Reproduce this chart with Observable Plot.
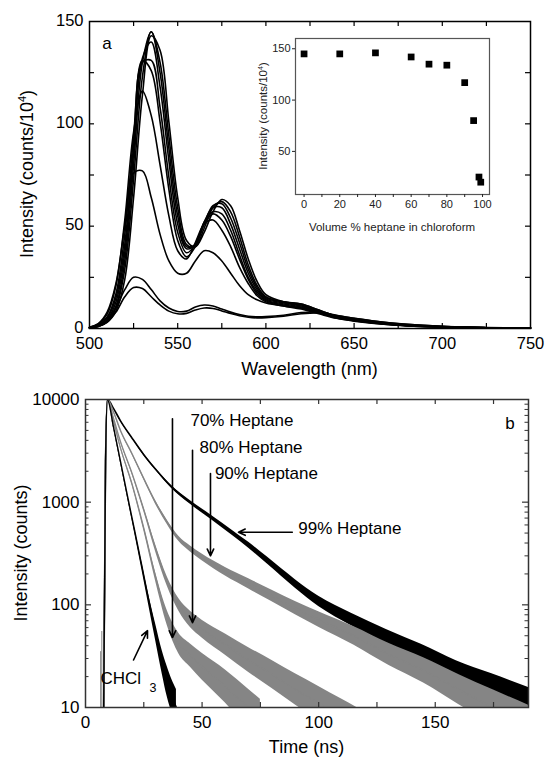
<!DOCTYPE html>
<html><head><meta charset="utf-8">
<script src="https://cdn.jsdelivr.net/npm/d3@7"></script>
<script src="https://cdn.jsdelivr.net/npm/@observablehq/plot@0.6"></script>
<style>
body{margin:0;background:#fff;}
#wrap{position:relative;width:548px;height:759px;overflow:hidden;background:#fff;}
#wrap svg{position:absolute;overflow:visible;}
</style></head><body><div id="wrap"></div>
<script>
const FONT = '"Liberation Sans", Arial, Helvetica, sans-serif';

// ---------- Panel a: emission spectra (intensity, counts/10^4) ----------
const wl = [500,505,510,515,520,525,530,535,540,545,550,555,560,565,570,575,580,585,590,595,600,610,620,630,640,650,660,680,700,725,750];
const sp0  = [0.3,1,3,8.5,24,64,114,143,136,101,64,43,40,47,57,63,60,48,34,23,16.5,13,12,9,6,4.5,3.2,1.7,0.9,0.4,0.2];
const sp20 = [0.3,1.1,3.4,10,29,73,123,145,130,94,59,41,40,49,59,62,57,45,31,21,15.5,13,12,9,6,4.4,3.1,1.6,0.9,0.4,0.2];
const sp40 = [0.3,1.2,3.8,11,33,80,130,145,125,88,55,40,41,51,60,61,54,42,29,20,15,13,11.5,8.5,5.8,4.2,3,1.5,0.8,0.4,0.2];
const sp60 = [0.4,1.4,4.3,13,37,86,132,140,118,82,51,39,41,52,59,59,51,39,27,19,14.5,12.5,11,8.2,5.6,4,2.9,1.5,0.8,0.4,0.2];
const sp70 = [0.4,1.6,5,15,41,89,130,131,108,74,47,37,41,52,57,56,48,36,25,18,14,12,10.5,8,5.4,3.9,2.8,1.4,0.7,0.3,0.2];
const sp80 = [0.5,1.8,5.6,17,46,94,131,126,101,68,43,35,40,51,56,53,45,34,24,17,13.5,11.5,10,7.6,5.2,3.8,2.7,1.4,0.7,0.3,0.2];
const sp90 = [0.6,2.2,7,21,53,96,116,104,80,55,38,34,42,51,53,48,40,30,22,16,13,11,9.5,7.2,5,3.6,2.6,1.3,0.7,0.3,0.2];
const sp95 = [0.6,2.4,8,22,50,76,77,64,46,33,27,27,33,38,37,33,27,21,16.5,14,12.5,11,10,8,5.8,4.2,3,1.5,0.8,0.3,0.2];
const sp98 = [0.3,1.2,4,10,19,25,24,19,13.5,10,8.3,8.5,10.5,11.5,11,9.5,8,6.8,6,5.7,5.8,6.5,7.8,8,6.5,5,3.8,2,1,0.4,0.2];
const sp99 = [0.3,1,3.3,8,15.5,20,19.5,15.5,11.5,8.5,7.2,7.4,9,10,9.8,8.6,7.3,6.2,5.5,5.2,5.3,6,7.2,7.6,6.3,5,3.8,2.1,1.1,0.5,0.2];
const spectra = {"0":sp0,"20":sp20,"40":sp40,"60":sp60,"70":sp70,"80":sp80,"90":sp90,"95":sp95,"98":sp98,"99":sp99};
const aXLabels = [500,550,600,650,700,750];
const aXTicks  = [525,550,575,600,625,650,675,700,725];
const aYLabels = [0,50,100,150];
const aYTicks  = [25,50,75,100,125];

// ---------- Inset: peak intensity vs volume % heptane ----------
const insetVol = [0,20,40,60,70,80,90,95,98,99];
const insetInt = [145,145,146,142,135,134,117,80,25,20];
const insetXLabels = [0,10,20,30,40,50,60,70,80,90,100];
const insetYLabels = [50,100,150];

// ---------- Panel b: fluorescence decays (counts) ----------
const tCH = [7.8,8.6,9.4,12,15,18,21,24,27,30,33,35,37,39];
const cCH = [10,2500,10000,5400,2500,1150,540,250,115,55,27,18,13,10];
const nCH = [1,1,1,1.02,1.03,1.04,1.06,1.08,1.12,1.2,1.3,1.4,1.45,1.5];
const t70 = [7.8,8.6,9.4,12,15,20,25,30,35,40,45,50,55,60,65,70,75];
const c70 = [10,2500,10000,6200,3400,1500,560,190,75,42,32,25,20,16,12.5,10,8];
const n70 = [1,1,1,1.02,1.02,1.04,1.06,1.1,1.18,1.26,1.3,1.35,1.4,1.45,1.5,1.5,1.5];
const t80 = [7.8,8.6,9.4,12,15,20,25,30,35,40,45,50,60,70,80,90,100,110,120];
const c80 = [10,2500,10000,6600,3900,1900,850,360,170,100,72,58,41,29,21,15,11,8,6];
const n80 = [1,1,1,1.02,1.02,1.03,1.05,1.08,1.11,1.15,1.2,1.22,1.27,1.32,1.37,1.42,1.46,1.5,1.5];
const t90 = [7.8,8.6,9.4,12,15,20,25,30,35,40,45,50,55,60,70,80,90,100,115,130,145,160,175,190];
const c90 = [10,2500,10000,7600,5000,2950,1700,1000,640,440,350,290,245,210,160,122,93,72,50,33,23,15,10,7];
const n90 = [1,1,1,1.01,1.01,1.02,1.03,1.04,1.05,1.06,1.07,1.08,1.09,1.1,1.12,1.14,1.16,1.19,1.23,1.28,1.33,1.4,1.48,1.5];
const t99 = [7.8,8.6,9.4,12,15,20,25,30,37,45,53.6,63.6,70,78,90,100,114,129,144,159,174,190];
const c99 = [10,2500,10000,8200,6200,4200,2900,2100,1400,990,720,490,380,270,160,108,72,48,33,22,15.5,11];
const n99 = [1,1,1,1.01,1.01,1.01,1.02,1.02,1.03,1.04,1.05,1.06,1.07,1.08,1.1,1.12,1.15,1.2,1.25,1.3,1.38,1.42];
const spikeT = [6.5,7.0];
const spikeI = [35,55];
const bXLabels = [0,50,100,150];
const bXTicks = [25,50,75,100,125,150,175];
const bYLabels = [10,100,1000,10000];
const bYMinor = [20,30,40,50,60,70,80,90,200,300,400,500,600,700,800,900,2000,3000,4000,5000,6000,7000,8000,9000];
// annotations (data coordinates)
const arrowT1 = [37.3,45.9,53.6,88.7,20.6];
const arrowI1 = [6500,3200,1900,510,29];
const arrowT2 = [37.3,45.9,53.6,65.6,26.6];
const arrowI2 = [48,67,300,510,56];
const labelText = ["70% Heptane","80% Heptane","90% Heptane","99% Heptane","CHCl"];
const labelT = [45,48.9,55.5,91.3,6.4];
const labelI = [6250,3410,1900,555,19];

const wrap = document.getElementById("wrap");
function place(svg, left, top){ svg.style.left = left+"px"; svg.style.top = top+"px"; wrap.appendChild(svg); return svg; }

// ===== Panel a =====
const aW = 548, aH = 380, aML = 89, aMR = 18, aMT = 21, aMB = 52;
const aPW = aW - aML - aMR, aPH = aH - aMT - aMB;
const specRows = [];
for (const [k, arr] of Object.entries(spectra)) arr.forEach((v,i)=>specRows.push({s:k, w:wl[i], v}));
const pa = Plot.plot({
  width:aW, height:aH, marginLeft:aML, marginRight:aMR, marginTop:aMT, marginBottom:aMB,
  style:{background:"transparent", fontFamily:FONT, color:"#000"},
  x:{domain:[500,750]}, y:{domain:[0,150]},
  marks:[
    Plot.line(specRows,{x:"w", y:"v", z:"s", curve:"catmull-rom", stroke:"#000", strokeWidth:1.6}),
    Plot.tickX(aXTicks,{x:d=>d, insetTop:aPH-5, stroke:"#000", strokeWidth:1.2}),
    Plot.tickX(aXTicks,{x:d=>d, insetBottom:aPH-5, stroke:"#000", strokeWidth:1.2}),
    Plot.tickY(aYTicks,{y:d=>d, insetRight:aPW-5, stroke:"#000", strokeWidth:1.2}),
    Plot.tickY(aYTicks,{y:d=>d, insetLeft:aPW-5, stroke:"#000", strokeWidth:1.2}),
    Plot.frame({stroke:"#000", strokeWidth:1.5}),
    Plot.axisX({ticks:aXLabels, tickSize:0, tickPadding:9, fontSize:16.5, label:null}),
    Plot.axisY({ticks:aYLabels, tickSize:0, tickPadding:6, fontSize:16.5, label:null, dy:-1}),
    Plot.text(["a"],{x:[507.2], y:[139], text:d=>d, fontSize:17, textAnchor:"start"})
  ]
});
place(pa,0,0);
const sa = d3.select(pa);
const ya = sa.append("text").attr("transform","translate(33,174) rotate(-90)")
  .attr("text-anchor","middle").attr("font-family",FONT).attr("font-size",18).attr("fill","#000");
ya.append("tspan").text("Intensity (counts/10");
ya.append("tspan").attr("font-size",11).attr("dy",-7).text("4");
ya.append("tspan").attr("dy",7).text(")");
sa.append("text").attr("x",309.5).attr("y",375).attr("text-anchor","middle")
  .attr("font-family",FONT).attr("font-size",18).attr("fill","#000").text("Wavelength (nm)");
// inset titles
const yi = sa.append("text").attr("transform","translate(267,116) rotate(-90)")
  .attr("text-anchor","middle").attr("font-family",FONT).attr("font-size",11.5).attr("fill","#222");
yi.append("tspan").text("Intensity (counts/10");
yi.append("tspan").attr("font-size",7).attr("dy",-4).text("4");
yi.append("tspan").attr("dy",4).text(")");
sa.append("text").attr("x",392).attr("y",231).attr("text-anchor","middle")
  .attr("font-family",FONT).attr("font-size",11.5).attr("fill","#222").text("Volume % heptane in chloroform");

// ===== Inset =====
const iML = 30, iMR = 5, iMT = 5, iMB = 50;
const inset = Plot.plot({
  width: iML + 194 + iMR, height: iMT + 156 + iMB,
  marginLeft:iML, marginRight:iMR, marginTop:iMT, marginBottom:iMB,
  style:{background:"transparent", fontFamily:FONT, color:"#222"},
  x:{domain:[-4.8,103.9]}, y:{domain:[8,160]},
  marks:[
    Plot.frame({stroke:"#555", strokeWidth:1.2}),
    Plot.dot(insetVol.map((v,i)=>({v, I:insetInt[i]})),{x:"v", y:"I", symbol:"square", r:3.8, fill:"#000"}),
    Plot.axisX({ticks:insetXLabels, tickSize:3, tickPadding:3, fontSize:11, tickFormat:d=>d%20===0?String(d):"", label:null}),
    Plot.axisY({ticks:insetYLabels, tickSize:3, tickPadding:2, fontSize:11, label:null})
  ]
});
place(inset, 295-iML, 38-iMT);

// ===== Panel b =====
const bW = 548, bH = 379, bML = 85, bMR = 20, bMT = 19, bMB = 52;
const bPW = bW - bML - bMR, bPH = bH - bMT - bMB;
function rows(t,c,n){ return t.map((tt,i)=>({t:tt, c:c[i], lo:c[i]/n[i], hi:c[i]*n[i]})); }
const decays = [
  {rows:rows(t99,c99,n99), color:"#000", w:1.6},
  {rows:rows(t90,c90,n90), color:"#858585", w:1.4},
  {rows:rows(t80,c80,n80), color:"#858585", w:1.2},
  {rows:rows(t70,c70,n70), color:"#858585", w:1.2},
  {rows:rows(tCH,cCH,nCH), color:"#000", w:1.4}
];
const decayMarks = [];
for (const d of decays){
  decayMarks.push(Plot.areaY(d.rows,{x:"t", y1:"lo", y2:"hi", fill:d.color, curve:"monotone-x", clip:true}));
  decayMarks.push(Plot.line(d.rows,{x:"t", y:"c", stroke:d.color, strokeWidth:d.w, curve:"monotone-x", clip:true}));
}
const pb = Plot.plot({
  width:bW, height:bH, marginLeft:bML, marginRight:bMR, marginTop:bMT, marginBottom:bMB,
  style:{background:"transparent", fontFamily:FONT, color:"#000"},
  x:{domain:[0,190]}, y:{type:"log", domain:[10,10000]},
  marks:[
    Plot.ruleX(spikeT.map((t,i)=>({t, I:spikeI[i]})),{x:"t", y1:10, y2:"I", stroke:"#858585", strokeWidth:1}),
    ...decayMarks,
    Plot.arrow(arrowT1.map((t,i)=>({x1:t, y1:arrowI1[i], x2:arrowT2[i], y2:arrowI2[i]})),
      {x1:"x1", y1:"y1", x2:"x2", y2:"y2", stroke:"#000", strokeWidth:1.6, headLength:7, headAngle:50}),
    Plot.text(labelText.map((s,i)=>({s, t:labelT[i], I:labelI[i]})),{x:"t", y:"I", text:"s", fontSize:17, textAnchor:"start"}),
    Plot.text(["3"],{x:[27.4], y:[15.5], text:d=>d, fontSize:12.5, textAnchor:"start"}),
    Plot.text(["b"],{x:[180], y:[5870], text:d=>d, fontSize:17, textAnchor:"start"}),
    Plot.tickX(bXTicks,{x:d=>d, insetTop:bPH-5, stroke:"#333", strokeWidth:1.2}),
    Plot.tickX(bXTicks,{x:d=>d, insetBottom:bPH-5, stroke:"#333", strokeWidth:1.2}),
    Plot.tickY([100,1000],{y:d=>d, insetRight:bPW-6, stroke:"#333", strokeWidth:1.2}),
    Plot.tickY([100,1000],{y:d=>d, insetLeft:bPW-6, stroke:"#333", strokeWidth:1.2}),
    Plot.tickY(bYMinor,{y:d=>d, insetRight:bPW-3.5, stroke:"#333", strokeWidth:1}),
    Plot.tickY(bYMinor,{y:d=>d, insetLeft:bPW-3.5, stroke:"#333", strokeWidth:1}),
    Plot.frame({stroke:"#333", strokeWidth:1.5}),
    Plot.axisX({ticks:bXLabels, tickSize:0, tickPadding:8, fontSize:17, label:null}),
    Plot.axisY({ticks:bYLabels, tickSize:0, tickPadding:6, fontSize:17, tickFormat:d=>String(d), label:null})
  ]
});
place(pb,0,380);
const sb = d3.select(pb);
sb.append("text").attr("transform","translate(27,173) rotate(-90)")
  .attr("text-anchor","middle").attr("font-family",FONT).attr("font-size",18).attr("fill","#000").text("Intensity (counts)");
sb.append("text").attr("x",306.5).attr("y",373).attr("text-anchor","middle")
  .attr("font-family",FONT).attr("font-size",18).attr("fill","#000").text("Time (ns)");
</script></body></html>
